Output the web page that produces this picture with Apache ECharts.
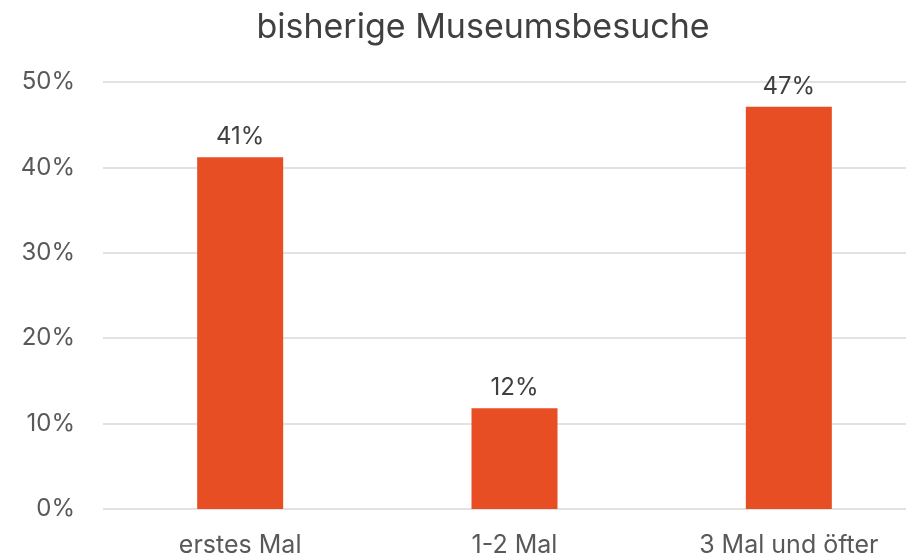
<!DOCTYPE html>
<html>
<head>
<meta charset="utf-8">
<script src="https://cdn.jsdelivr.net/npm/echarts@6/dist/echarts.min.js"></script>
<style>
  html, body { margin: 0; padding: 0; background: #fff; }
  #chart { width: 906px; height: 557px; }
</style>
</head>
<body>
<div id="chart"></div>
<script>
  // Daten
  const categories = ['erstes Mal', '1-2 Mal', '3 Mal und öfter'];
  const values = [41.2, 11.8, 47.1];
  const yTicks = [0, 10, 20, 30, 40, 50];

  const chart = echarts.init(document.getElementById('chart'));

  const font = 'Inter, "Noto Sans", "Liberation Sans", sans-serif';

  chart.setOption({
    animation: false,
    title: {
      text: 'bisherige Museumsbesuche',
      left: 478,
      textAlign: 'center',
      top: 6,
      textStyle: { fontFamily: font, fontSize: 34, fontWeight: 'normal', color: '#404040' }
    },
    // Plotbereich ragt rechts über den Bildrand hinaus (wie im Original)
    grid: {
      left: 103, top: 82, width: 823, bottom: 48,
      containLabel: false,
      outerBoundsMode: 'none'
    },
    xAxis: {
      type: 'category',
      data: categories,
      axisLine: { show: false },
      axisTick: { show: false },
      axisLabel: { margin: 24, fontFamily: font, fontSize: 25, color: '#595959' }
    },
    yAxis: {
      type: 'value',
      min: yTicks[0],
      max: yTicks[yTicks.length - 1],
      interval: 10,
      axisLine: { show: false },
      axisTick: { show: false },
      splitLine: { lineStyle: { color: '#d9d9d9', width: 1.5 } },
      axisLabel: {
        margin: 28,
        fontFamily: font,
        fontSize: 24,
        color: '#595959',
        formatter: (v) => v + '%'
      }
    },
    series: [{
      type: 'bar',
      data: values,
      barWidth: 86,
      itemStyle: { color: '#E84E24' },
      label: {
        show: true,
        position: 'top',
        distance: 8,
        fontFamily: font,
        fontSize: 24,
        color: '#404040',
        formatter: (p) => Math.round(p.value) + '%'
      }
    }]
  });
</script>
</body>
</html>
